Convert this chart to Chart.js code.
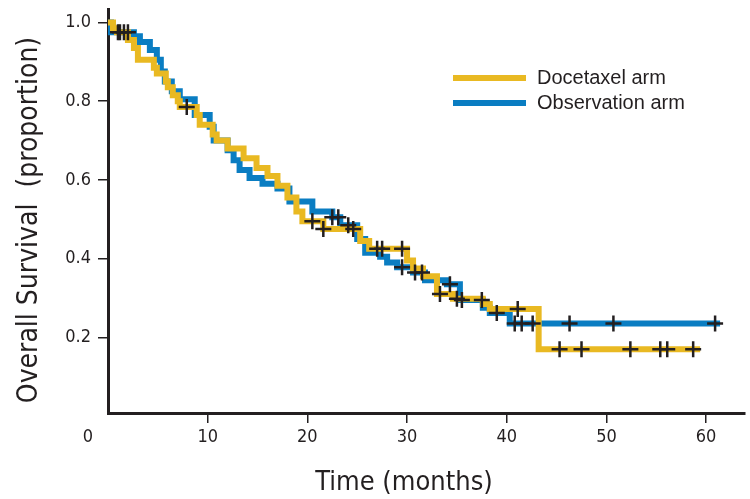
<!DOCTYPE html>
<html>
<head>
<meta charset="utf-8">
<title>Overall Survival</title>
<script src="https://cdn.jsdelivr.net/npm/chart.js@4.4.1/dist/chart.umd.min.js"></script>
<style>
  html, body { margin: 0; padding: 0; background: #fff; }
  canvas { display: block; }
</style>
</head>
<body>
<canvas id="km" width="750" height="499"></canvas>
<script>
// Kaplan-Meier steps: each arm holds surv[i] from times[i] until the next drop
const docetaxelTimes = [0, 0.5, 0.9, 2.0, 2.6, 3.0, 4.6, 4.9, 5.8, 6.0, 6.5, 7.0, 7.2, 8.9, 9.2, 10.5, 10.9, 12.0, 13.6, 14.9, 16.0, 17.0, 18.0, 18.9, 19.5, 21.6, 25.3, 26.2, 30.0, 30.6, 31.6, 33.0, 34.6, 37.6, 38.3, 43.2];
const docetaxelSurv  = [1.0, 0.985, 0.975, 0.955, 0.935, 0.905, 0.885, 0.87, 0.85, 0.835, 0.815, 0.80, 0.785, 0.765, 0.74, 0.715, 0.70, 0.68, 0.655, 0.63, 0.61, 0.585, 0.555, 0.52, 0.495, 0.475, 0.445, 0.425, 0.395, 0.375, 0.355, 0.31, 0.298, 0.285, 0.272, 0.17];
const docetaxelEnd = 59.4;
const docetaxelCensored = [1.2, 1.6, 7.9, 20.5, 21.6, 24.6, 27.0, 27.5, 29.5, 33.3, 35.0, 41.1, 45.3, 47.5, 52.4, 55.4, 56.1, 58.7];

const observationTimes = [0, 0.3, 2.6, 3.2, 4.2, 4.9, 5.3, 5.7, 6.4, 7.2, 8.7, 10.2, 10.6, 12.0, 12.6, 13.2, 14.2, 15.5, 17.0, 18.2, 20.5, 22.5, 23.3, 25.0, 25.8, 27.3, 28.0, 29.0, 30.6, 31.8, 34.0, 35.3, 37.6, 38.3, 40.3];
const observationSurv  = [1.0, 0.975, 0.965, 0.95, 0.93, 0.905, 0.875, 0.85, 0.825, 0.805, 0.765, 0.735, 0.70, 0.675, 0.65, 0.625, 0.605, 0.59, 0.578, 0.545, 0.52, 0.505, 0.485, 0.45, 0.415, 0.405, 0.39, 0.378, 0.365, 0.345, 0.335, 0.295, 0.275, 0.262, 0.235];
const observationEnd = 61.4;
const observationCensored = [1.0, 2.0, 22.5, 23.1, 24.1, 29.5, 30.8, 31.5, 34.3, 35.5, 37.5, 39.0, 40.8, 41.5, 42.6, 46.3, 50.7, 60.9];

const xTicks = [10, 20, 30, 40, 50, 60];
const yTicks = [0.2, 0.4, 0.6, 0.8, 1.0];

const INK = '#231f20';
const GOLD = '#e9b922';
const BLUE = '#0a7dc2';
const NARROW = '"Liberation Sans Narrow", "DejaVu Sans Condensed", "Roboto Condensed", sans-serif';
const PLAIN = '"Liberation Sans", Arial, sans-serif';

function stepPoints(times, surv, end) {
  const pts = times.map((t, i) => ({ x: t, y: surv[i] }));
  pts.push({ x: end, y: surv[surv.length - 1] });
  return pts;
}

function survivalAt(times, surv, t) {
  let s = surv[0];
  times.forEach((ti, i) => { if (ti <= t) s = surv[i]; });
  return s;
}

function censorPoints(times, surv, censored) {
  return censored.map(t => ({ x: t, y: survivalAt(times, surv, t) }));
}

// legend, axis titles and the lone "0" under the corner
const extras = {
  id: 'extras',
  afterDraw(chart) {
    const ctx = chart.ctx;
    const xs = chart.scales.x;
    ctx.save();
    ctx.fillStyle = INK;
    ctx.textBaseline = 'middle';

    ctx.font = '18px ' + NARROW;
    ctx.textAlign = 'center';
    ctx.fillText('0', xs.getPixelForValue(0) - 20, 437);

    ctx.font = '27px ' + NARROW;
    ctx.fillText('Time (months)', 404, 483);
    ctx.save();
    ctx.translate(30, 220);
    ctx.rotate(-Math.PI / 2);
    ctx.font = '28px ' + NARROW;
    ctx.fillText('Overall Survival  (proportion)', 0, 0);
    ctx.restore();

    const arms = chart.data.datasets.filter(d => d.arm);
    ctx.font = '20px ' + PLAIN;
    ctx.textAlign = 'left';
    arms.forEach((d, i) => {
      const y = 78 + i * 25;
      ctx.strokeStyle = d.borderColor;
      ctx.lineWidth = 6;
      ctx.beginPath();
      ctx.moveTo(453, y);
      ctx.lineTo(526, y);
      ctx.stroke();
      ctx.fillStyle = INK;
      ctx.fillText(d.label, 537, y);
    });
    ctx.restore();
  }
};

new Chart(document.getElementById('km'), {
  type: 'line',
  data: {
    datasets: [
      {
        label: 'censored',
        type: 'scatter',
        data: censorPoints(docetaxelTimes, docetaxelSurv, docetaxelCensored)
          .concat(censorPoints(observationTimes, observationSurv, observationCensored)),
        pointStyle: 'cross',
        pointRadius: 8,
        pointBorderWidth: 2.5,
        pointBorderColor: INK,
        order: 0
      },
      {
        label: 'Docetaxel arm',
        arm: true,
        data: stepPoints(docetaxelTimes, docetaxelSurv, docetaxelEnd),
        stepped: true,
        borderColor: GOLD,
        borderWidth: 6,
        pointRadius: 0,
        fill: false,
        order: 1
      },
      {
        label: 'Observation arm',
        arm: true,
        data: stepPoints(observationTimes, observationSurv, observationEnd),
        stepped: true,
        borderColor: BLUE,
        borderWidth: 6,
        pointRadius: 0,
        fill: false,
        order: 2
      }
    ]
  },
  options: {
    responsive: false,
    animation: false,
    devicePixelRatio: 1,
    layout: { autoPadding: false, padding: { top: 9, right: 5, left: 0, bottom: 0 } },
    plugins: {
      legend: { display: false },
      tooltip: { enabled: false }
    },
    scales: {
      x: {
        type: 'linear',
        min: 0,
        max: 63.9,
        afterBuildTicks: s => { s.ticks = xTicks.map(v => ({ value: v })); },
        afterFit: s => { s.height = 86; s.paddingLeft = 0; s.paddingRight = 0; },
        border: { display: true, width: 3, color: INK },
        grid: { drawOnChartArea: false, drawTicks: true, tickLength: 10, tickColor: INK, lineWidth: 1.5 },
        ticks: { color: INK, padding: 4, maxRotation: 0, font: { family: NARROW, size: 18 } }
      },
      y: {
        type: 'linear',
        min: 0.008,
        max: 1.034,
        afterBuildTicks: s => { s.ticks = yTicks.map(v => ({ value: v })); },
        afterFit: s => { s.width = 108; s.paddingTop = 0; s.paddingBottom = 0; },
        border: { display: true, width: 3, color: INK },
        grid: { drawOnChartArea: false, drawTicks: true, tickLength: 10, tickColor: INK, lineWidth: 1.5 },
        ticks: { color: INK, padding: 7, font: { family: NARROW, size: 18 }, callback: v => v.toFixed(1) }
      }
    }
  },
  plugins: [extras]
});
</script>
</body>
</html>
